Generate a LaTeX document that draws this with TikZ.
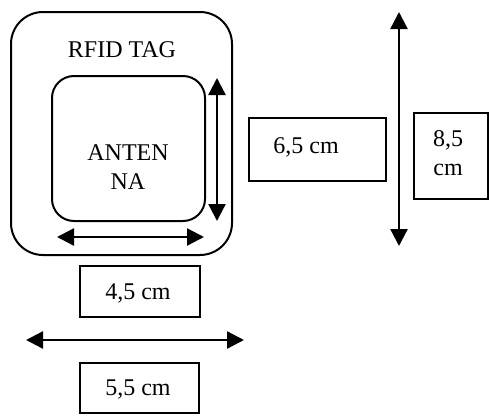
\documentclass[tikz,border=0pt]{standalone}
\usepackage{fontspec}
\setmainfont{Liberation Serif}
\usetikzlibrary{arrows.meta}
\begin{document}
\begin{tikzpicture}[x=1pt,y=-1pt,
  txt/.style={font=\fontsize{24}{29}\selectfont, inner sep=0pt, align=center},
  frame/.style={draw, line width=2pt},
  dim/.style={line width=2.4pt, {Triangle[length=17pt,width=17pt]}-{Triangle[length=17pt,width=17pt]}}]
\useasboundingbox (0,0) rectangle (489,415);
% tag outline and antenna
\draw[frame, rounded corners=32pt] (11,12) rectangle (232,255);
\draw[frame, rounded corners=22pt] (52,76) rectangle (205,221);
\node[txt] (tag) at (122,50) {RFID TAG};
\node[txt] (ant) at (128,167) {ANTEN\\NA};
% antenna dimension arrows
\coordinate (av1) at (217,78);
\coordinate (av2) at (217,221);
\draw[dim] (av1) -- (av2);
\coordinate (ah1) at (57,237);
\coordinate (ah2) at (204,237);
\draw[dim] (ah1) -- (ah2);
% tag dimension arrows
\coordinate (tv1) at (399,12);
\coordinate (tv2) at (399,246);
\draw[dim] (tv1) -- (tv2);
\coordinate (th1) at (26,340);
\coordinate (th2) at (244,340);
\draw[dim] (th1) -- (th2);
% labels
\draw[frame] (249,118) rectangle (386,181);
\node[txt] (l65) at (306,147) {6,5 cm};
\draw[frame] (414,113) rectangle (488,199);
\node[txt] (l85) at (448,153) {8,5\\cm};
\draw[frame] (80,266) rectangle (200,317);
\node[txt] (l45) at (138,293) {4,5 cm};
\draw[frame] (80,363) rectangle (199,413);
\node[txt] (l55) at (138,389) {5,5 cm};
\end{tikzpicture}
\end{document}
